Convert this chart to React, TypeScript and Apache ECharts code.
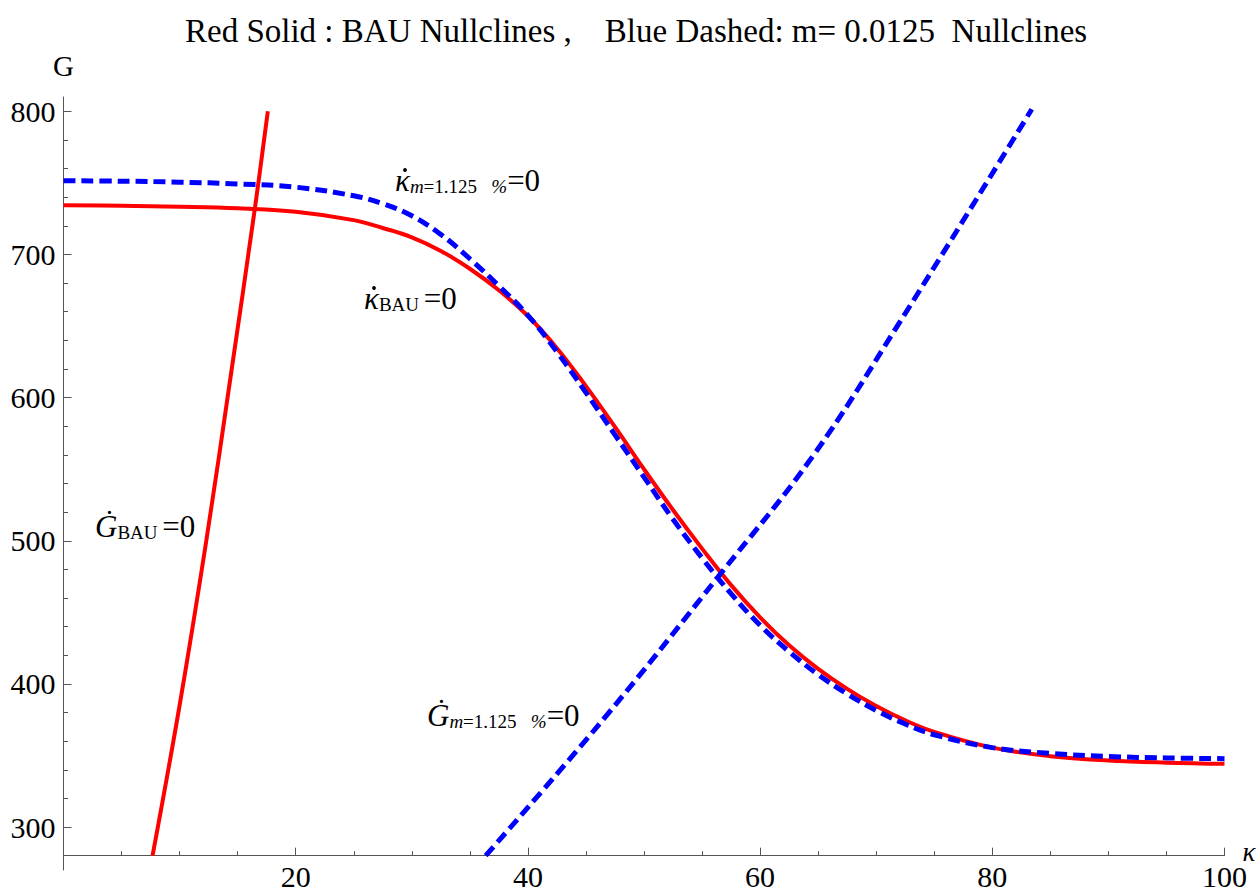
import React, { useEffect, useRef } from 'react';
import * as echarts from 'echarts';

// ---------- data ----------
const TITLE = 'Red Solid : BAU Nullclines ,\u00a0\u00a0\u00a0 Blue Dashed: m= 0.0125\u00a0 Nullclines';
const X_NAME = 'κ';
const Y_NAME = 'G';

// kappa sample points for the kappa-nullclines
const kappaSamples = [0, 5, 10, 15, 20, 25, 27.5, 30, 32.5, 35, 37.5, 40, 42.5, 45, 47.5, 50, 52.5, 55, 57.5, 60, 62.5, 65, 67.5, 70, 72.5, 75, 80, 85, 90, 95, 100];
// red solid: BAU kappa-nullcline (G values)
const bauKappaNullcline = [734.3, 734.0, 733.4, 732.3, 729.8, 724, 718.5, 712, 702.5, 690, 675, 657, 634.5, 608, 579.5, 550, 521.5, 494.5, 469, 446.5, 427, 410.5, 396.5, 384.5, 374.5, 366.5, 355.5, 349.5, 346.5, 345, 344.2];
// blue dashed: m = 1.125 % kappa-nullcline (G values)
const mKappaNullcline = [751.5, 751.2, 750.5, 749.3, 747, 741, 735.5, 727, 714, 697, 678, 657.5, 632, 603.5, 574, 544.5, 515, 488, 463, 441, 422.5, 406.5, 393, 381.5, 372, 364.5, 355.5, 351.5, 349.3, 348.3, 347.8];

// red solid: BAU G-nullcline
const bauGNullclineKappa = [7.67, 10.0, 12.3, 14.4, 16.48, 17.6];
const bauGNullclineG = [280, 385, 500, 615, 732, 800];
// blue dashed: m = 1.125 % G-nullcline
const mGNullclineKappa = [36.36, 46.45, 56.64, 64.53, 71.99, 83.4];
const mGNullclineG = [280, 374.8, 477.4, 559, 652.2, 801.4];

// axes
const X_MIN = 0;
const X_MAX = 100;
const X_INTERVAL = 20;
const Y_MIN = 270;
const Y_MAX = 810;
const Y_ORIGIN = 280;
const Y_TICK_MIN = 300;
const Y_TICK_MAX = 800;
const Y_INTERVAL = 100;

// ---------- layout ----------
const SERIF = '"Liberation Serif", "Times New Roman", "DejaVu Serif", serif';
const AXIS_COLOR = '#555';
const PLOT_LEFT = 63.5;
const PLOT_RIGHT = 1224.5;
const PLOT_TOP = 97;
const PLOT_BOTTOM = 870;
const PX_PER_G = (PLOT_BOTTOM - PLOT_TOP) / (Y_MAX - Y_MIN);

const richBase = {
  big: { fontFamily: SERIF, fontSize: 31, lineHeight: 31, fill: '#000' },
  bigI: { fontFamily: SERIF, fontSize: 31, lineHeight: 31, fontStyle: 'italic', fill: '#000' },
  sub: { fontFamily: SERIF, fontSize: 19, lineHeight: 14, verticalAlign: 'bottom', fill: '#000' },
  subI: { fontFamily: SERIF, fontSize: 19, lineHeight: 14, fontStyle: 'italic', verticalAlign: 'bottom', fill: '#000' },
};

function label(x: number, baseline: number, text: string) {
  return {
    type: 'text',
    x,
    y: baseline + 5,
    style: { text, rich: richBase, align: 'left', verticalAlign: 'bottom' },
  };
}

function dot(x: number, y: number) {
  return { type: 'circle', shape: { cx: x, cy: y, r: 1.9 }, style: { fill: '#000' } };
}

export default function App() {
  const ref = useRef<HTMLDivElement>(null);

  useEffect(() => {
    if (!ref.current) return;
    const chart = echarts.init(ref.current, null, { renderer: 'svg' });

    const grid2Top = PLOT_TOP + (Y_MAX - Y_TICK_MAX) * PX_PER_G;
    const grid2Height = (Y_TICK_MAX - Y_TICK_MIN) * PX_PER_G;
    const xAxisY = PLOT_BOTTOM - (Y_ORIGIN - Y_MIN) * PX_PER_G;

    const lineBase = { type: 'line', xAxisIndex: 0, yAxisIndex: 0, showSymbol: false };

    const option: any = {
      animation: false,
      backgroundColor: '#fff',
      title: {
        text: TITLE,
        left: 185,
        top: 14,
        padding: 0,
        textStyle: { fontFamily: SERIF, fontSize: 33, fontWeight: 'normal', color: '#000' },
      },
      grid: [
        { left: PLOT_LEFT, right: 1260 - PLOT_RIGHT, top: PLOT_TOP, height: PLOT_BOTTOM - PLOT_TOP, containLabel: false, outerBoundsMode: 'none' },
        { left: PLOT_LEFT, right: 1260 - PLOT_RIGHT, top: grid2Top, height: grid2Height, containLabel: false, outerBoundsMode: 'none' },
      ],
      xAxis: [
        {
          gridIndex: 0,
          type: 'value',
          min: X_MIN,
          max: X_MAX,
          interval: X_INTERVAL,
          offset: -(Y_ORIGIN - Y_MIN) * PX_PER_G,
          axisLine: { show: true, onZero: false, lineStyle: { color: AXIS_COLOR, width: 1 } },
          axisTick: { show: true, inside: true, length: 8, lineStyle: { color: AXIS_COLOR, width: 1 } },
          minorTick: { show: true, splitNumber: 4, length: 4.5, lineStyle: { color: AXIS_COLOR, width: 1 } },
          axisLabel: {
            show: true,
            margin: 6,
            fontFamily: SERIF,
            fontSize: 30,
            color: '#000',
            formatter: (v: number) => (v === 0 ? '' : String(v)),
          },
          splitLine: { show: false },
          minorSplitLine: { show: false },
        },
        {
          gridIndex: 1,
          type: 'value',
          min: X_MIN,
          max: X_MAX,
          show: false,
        },
      ],
      yAxis: [
        {
          gridIndex: 0,
          type: 'value',
          min: Y_MIN,
          max: Y_MAX,
          name: Y_NAME,
          nameLocation: 'end',
          nameGap: 17,
          nameTextStyle: { fontFamily: SERIF, fontSize: 29, color: '#000', align: 'center', verticalAlign: 'bottom' },
          axisLine: { show: true, onZero: false, lineStyle: { color: AXIS_COLOR, width: 1 } },
          axisTick: { show: false },
          axisLabel: { show: false },
          splitLine: { show: false },
        },
        {
          gridIndex: 1,
          type: 'value',
          min: Y_TICK_MIN,
          max: Y_TICK_MAX,
          interval: Y_INTERVAL,
          axisLine: { show: false },
          axisTick: { show: true, inside: true, length: 8, lineStyle: { color: AXIS_COLOR, width: 1 } },
          minorTick: { show: true, splitNumber: 5, length: 4.5, lineStyle: { color: AXIS_COLOR, width: 1 } },
          axisLabel: { show: true, margin: 8, fontFamily: SERIF, fontSize: 30, color: '#000' },
          splitLine: { show: false },
          minorSplitLine: { show: false },
        },
      ],
      series: [
        {
          ...lineBase,
          name: 'BAU κ-nullcline',
          data: kappaSamples.map((k, i) => [k, bauKappaNullcline[i]]),
          smooth: 0.4,
          lineStyle: { color: '#ff0000', width: 4 },
          z: 2,
        },
        {
          ...lineBase,
          name: 'BAU G-nullcline',
          data: bauGNullclineKappa.map((k, i) => [k, bauGNullclineG[i]]),
          smooth: 0.4,
          lineStyle: { color: '#ff0000', width: 4 },
          z: 2,
        },
        {
          ...lineBase,
          name: 'm κ-nullcline',
          data: kappaSamples.map((k, i) => [k, mKappaNullcline[i]]),
          smooth: 0.4,
          lineStyle: { color: '#0000ff', width: 5, type: [12, 6], cap: 'butt' },
          z: 3,
        },
        {
          ...lineBase,
          name: 'm G-nullcline',
          data: mGNullclineKappa.map((k, i) => [k, mGNullclineG[i]]),
          smooth: 0.4,
          lineStyle: { color: '#0000ff', width: 5, type: [12, 6], cap: 'butt' },
          z: 3,
        },
      ],
      graphic: [
        {
          type: 'text',
          x: PLOT_RIGHT + 18,
          y: xAxisY + 10,
          style: { text: X_NAME, fontFamily: SERIF, fontSize: 27, fontStyle: 'italic', fill: '#000', align: 'left', verticalAlign: 'bottom' },
        },
        label(395, 191, '{bigI|κ}{subI|m}{sub|=1.125\u00a0\u00a0\u00a0}{subI|%}{big|=0}'),
        dot(405, 170),
        label(364, 309, '{bigI|κ}{sub|BAU\u00a0}{big|=0}'),
        dot(374, 288),
        label(95, 537, '{bigI|Ġ}{sub|BAU\u00a0}{big|=0}'),
        label(427, 726, '{bigI|Ġ}{subI|m}{sub|=1.125\u00a0\u00a0\u00a0}{subI|%}{big|=0}'),
      ],
    };

    chart.setOption(option);
    return () => chart.dispose();
  }, []);

  return (
    <div
      ref={ref}
      style={{ position: 'absolute', left: 0, top: 0, width: 1260, height: 895, background: '#fff' }}
    />
  );
}
